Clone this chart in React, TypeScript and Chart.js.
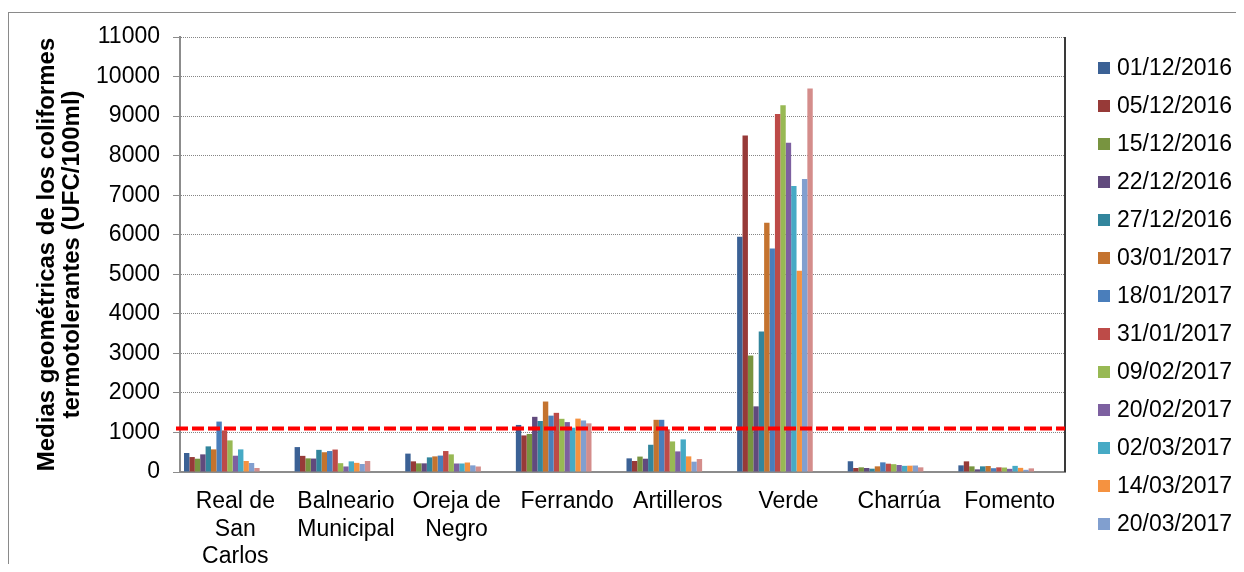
import { useEffect, useRef } from 'react';
import { Chart, registerables } from 'chart.js';

Chart.register(...registerables);

// Sampling sites (x categories), already split into the lines shown under the axis
const sites: (string | string[])[] = [
  ['Real de', 'San', 'Carlos'],
  ['Balneario', 'Municipal'],
  ['Oreja de', 'Negro'],
  'Ferrando',
  'Artilleros',
  'Verde',
  'Charrúa',
  'Fomento',
];

// Sampling dates (one series per date)
const sampleDates = [
  '01/12/2016', '05/12/2016', '15/12/2016', '22/12/2016', '27/12/2016',
  '03/01/2017', '18/01/2017', '31/01/2017', '09/02/2017', '20/02/2017',
  '02/03/2017', '14/03/2017', '20/03/2017', '27/03/2017',
];

// Geometric means of thermotolerant coliforms (UFC/100ml), one value per site
const d20161201 = [480, 630, 465, 1190, 345, 5950, 272, 168];
const d20161205 = [378, 408, 269, 925, 278, 8510, 101, 269];
const d20161215 = [336, 345, 219, 962, 390, 2945, 118, 143];
const d20161222 = [446, 340, 219, 1395, 336, 1660, 101, 67];
const d20161227 = [648, 560, 370, 1290, 689, 3550, 84, 143];
const d20170103 = [572, 500, 395, 1782, 1320, 6300, 143, 151];
const d20170118 = [1275, 530, 415, 1425, 1320, 5650, 244, 96];
const d20170131 = [1051, 568, 530, 1496, 1080, 9050, 210, 118];
const d20170209 = [799, 223, 446, 1345, 773, 9275, 198, 113];
const d20170220 = [412, 140, 215, 1262, 521, 8325, 177, 80];
const d20170302 = [572, 269, 215, 1120, 824, 7230, 156, 155];
const d20170314 = [278, 231, 240, 1350, 395, 5086, 160, 105];
const d20170320 = [227, 202, 168, 1303, 261, 7410, 164, 55];
const d20170327 = [101, 278, 139, 1230, 328, 9695, 118, 92];

const seriesValues = [
  d20161201, d20161205, d20161215, d20161222, d20161227, d20170103, d20170118,
  d20170131, d20170209, d20170220, d20170302, d20170314, d20170320, d20170327,
];

const seriesColors = [
  '#3B6195', '#973A38', '#789440', '#614A7D', '#32859C', '#C4732F', '#4A7EBB',
  '#BD4B48', '#98B954', '#7D60A0', '#46AAC5', '#F59240', '#819FCF', '#D48D8B',
];

// The workbook keeps five more date columns that have no results yet;
// they still take their place inside each cluster.
const emptySlots = 5;

// Y axis range and the reference limit drawn as a dashed line
const yMin = 0;
const yMax = 11000;
const yStep = 1000;
const limitValue = 1100;

const FONT = "'Liberation Sans', Arial, sans-serif";
const FONT_SIZE = 23;

const overlayPlugin = {
  id: 'overlay',
  afterDatasetsDraw(chart: any) {
    const { ctx, chartArea: a, scales } = chart;
    ctx.save();
    // right edge of the plot area
    ctx.strokeStyle = '#3a3a3a';
    ctx.lineWidth = 2;
    ctx.beginPath();
    ctx.moveTo(a.right, a.top);
    ctx.lineTo(a.right, a.bottom);
    ctx.stroke();
    // limit line
    const yy = scales.y.getPixelForValue(limitValue);
    ctx.strokeStyle = '#FF0000';
    ctx.lineWidth = 4;
    ctx.setLineDash([12, 4]);
    ctx.beginPath();
    ctx.moveTo(a.left - 4, yy);
    ctx.lineTo(a.right, yy);
    ctx.stroke();
    ctx.restore();
  },
  afterDraw(chart: any) {
    // legend column on the right; rows that do not fit in the box are dropped
    const { ctx } = chart;
    const x = 1090;
    const top = 60;
    const step = 38;
    const boxBottom = 548;
    ctx.save();
    ctx.font = `${FONT_SIZE}px ${FONT}`;
    ctx.textBaseline = 'middle';
    ctx.textAlign = 'left';
    let row = 0;
    chart.data.datasets.forEach((ds: any) => {
      if (!ds.label) return;
      const cy = top + row * step;
      row++;
      if (cy + FONT_SIZE / 2 > boxBottom) return;
      ctx.fillStyle = ds.backgroundColor;
      ctx.fillRect(x, cy - 6, 12, 12);
      ctx.fillStyle = '#000';
      ctx.fillText(ds.label, x + 19, cy + 1);
    });
    ctx.restore();
  },
};

export default function App() {
  const canvasRef = useRef<HTMLCanvasElement | null>(null);

  useEffect(() => {
    if (!canvasRef.current) return;
    Chart.defaults.font.family = FONT;
    Chart.defaults.color = '#000';

    const datasets: any[] = seriesValues.map((vals, i) => ({
      label: sampleDates[i],
      data: vals,
      backgroundColor: seriesColors[i],
      borderWidth: 0,
    }));
    for (let k = 0; k < emptySlots; k++) {
      datasets.push({ label: '', data: [], backgroundColor: 'transparent', borderWidth: 0 });
    }

    const chart = new Chart(canvasRef.current, {
      type: 'bar',
      data: { labels: sites, datasets },
      options: {
        animation: false,
        responsive: false,
        devicePixelRatio: 1,
        layout: { padding: { left: 0, top: 29, right: 179, bottom: 0 } },
        datasets: { bar: { categoryPercentage: 0.928, barPercentage: 1 } },
        plugins: { legend: { display: false }, tooltip: { enabled: false } },
        scales: {
          x: {
            type: 'category',
            grid: { display: false, drawTicks: false },
            border: { color: '#8c8c8c', width: 2 },
            ticks: {
              font: { size: FONT_SIZE, lineHeight: 1.2 },
              padding: 16,
              maxRotation: 0,
              autoSkip: false,
              color: '#000',
            },
            afterFit(scale: any) {
              scale.height = 556 - 464;
            },
          },
          y: {
            min: yMin,
            max: yMax,
            ticks: {
              stepSize: yStep,
              font: { size: FONT_SIZE },
              padding: 13,
              color: '#000',
              callback: (v: any) => String(v),
            },
            grid: { color: '#858585', tickLength: 7, tickColor: '#8c8c8c', lineWidth: 1 },
            border: { color: '#8c8c8c', width: 2, dash: [1, 1] },
            title: {
              display: true,
              text: ['Medias geométricas de los coliformes', 'termotolerantes (UFC/100ml)'],
              font: { size: 24, weight: 'bold', lineHeight: 1.04 },
              padding: { top: 27, bottom: 0 },
              color: '#000',
            },
            afterFit(scale: any) {
              scale.width = 172;
            },
          },
        },
      },
      plugins: [overlayPlugin],
    } as any);

    return () => chart.destroy();
  }, []);

  return (
    <div style={{ position: 'relative', width: 1236, height: 556, overflow: 'hidden' }}>
      <div
        style={{
          position: 'absolute',
          left: 0,
          top: 4,
          width: 1400,
          height: 800,
          border: '1px solid #8a8a8a',
          boxSizing: 'border-box',
        }}
      />
      <canvas
        ref={canvasRef}
        width={1236}
        height={556}
        style={{ position: 'absolute', left: 0, top: 0, width: 1236, height: 556 }}
      />
    </div>
  );
}
